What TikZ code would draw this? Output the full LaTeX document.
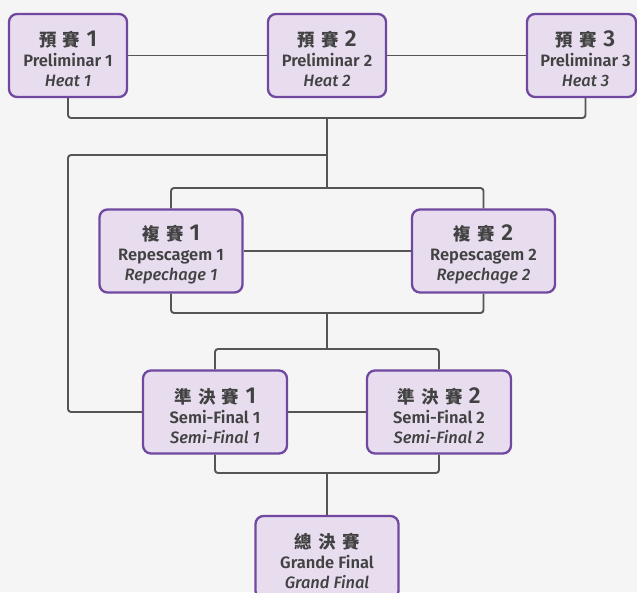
\documentclass[tikz,border=0pt]{standalone}
\usepackage{fontspec}
\setmainfont{Fira Sans}[BoldFont={Fira Sans SemiBold}, ItalicFont={Fira Sans Medium Italic}, BoldItalicFont={Fira Sans SemiBold Italic}]
\newfontfamily\cjk{Noto Sans CJK TC}
\newfontfamily\numfont{Fira Sans}[UprightFont={* SemiBold}]
\usetikzlibrary{calc}
\definecolor{bg}{HTML}{F5F5F5}
\definecolor{boxfill}{HTML}{E7DDEF}
\definecolor{boxdraw}{HTML}{7048A0}
\definecolor{wirecol}{HTML}{555555}
\definecolor{txt}{HTML}{424242}
\tikzset{
  stage/.style={draw=boxdraw, fill=boxfill, line width=2.3pt, rounded corners=8pt,
    minimum height=83pt, align=center, text=txt, inner sep=0pt,
    font=\fontsize{16.5}{20}\selectfont},
  wire/.style={draw=wirecol, line width=1.9pt, rounded corners=3pt},
}
\newcommand\ttl[2]{\rule{0pt}{23pt}{\cjk\bfseries\fontsize{17.5}{20}\selectfont #1}\hspace{6pt}{\numfont\fontsize{23}{20}\selectfont #2}}
\newcommand\gp{\hspace{6.5pt}}
\newcommand\rs{\hspace*{8pt}}
\begin{document}
\begin{tikzpicture}[x=1pt,y=-1pt]
\useasboundingbox (0,0) rectangle (637,592);
\fill[bg] (0,0) rectangle (637,592);
% nodes
\node[stage, minimum width=118pt] (h1) at (68,55.5) {\ttl{預\gp 賽}{1}\\{\bfseries Preliminar 1}\\{\itshape Heat 1}};
\node[stage, minimum width=118pt] (h2) at (327,55.5) {\ttl{預\gp 賽}{2}\\{\bfseries Preliminar 2}\\{\itshape Heat 2}};
\node[stage, minimum width=109pt] (h3) at (581.5,55.5) {\rs\ttl{預\gp 賽}{3}\\\rs{\bfseries Preliminar 3}\\\rs{\itshape Heat 3}};
\node[stage, minimum width=143pt] (r1) at (171,251) {\ttl{複\gp 賽}{1}\\{\bfseries Repescagem 1}\\{\itshape Repechage 1}};
\node[stage, minimum width=143pt] (r2) at (483.5,251) {\ttl{複\gp 賽}{2}\\{\bfseries Repescagem 2}\\{\itshape Repechage 2}};
\node[stage, minimum width=144pt] (s1) at (215,412) {\ttl{準\gp 決\gp 賽}{1}\\{\bfseries Semi-Final 1}\\{\itshape Semi-Final 1}};
\node[stage, minimum width=144pt] (s2) at (439,412) {\ttl{準\gp 決\gp 賽}{2}\\{\bfseries Semi-Final 2}\\{\itshape Semi-Final 2}};
\node[stage, minimum width=143pt] (fin) at (327,557.5) {\rule{0pt}{23pt}{\cjk\bfseries\fontsize{17.5}{20}\selectfont 總\gp 決\gp 賽}\\{\bfseries Grande Final}\\{\itshape Grand Final}};
% junctions
\coordinate (j1) at (327,118);
\coordinate (j2) at (327,155);
\coordinate (j3) at (327,188);
\coordinate (j4) at (327,313);
\coordinate (j5) at (327,349);
\coordinate (j6) at (327,473);
\coordinate (h3b) at ($(h3.south)+(4,0)$);
% wires
\draw[wire] (h1.east) -- (h2.west);
\draw[wire] (h2.east) -- (h3.west);
\draw[wire] (h1.south) |- (j1) -| (h3b);
\draw[wire] (j1) -- (j3);
\draw[wire] (j2) -| (h1.south |- s1.west) -- (s1.west);
\draw[wire] (r1.north) |- (j3) -| (r2.north);
\draw[wire] (r1.east) -- (r2.west);
\draw[wire] (r1.south) |- (j4) -| (r2.south);
\draw[wire] (j4) -- (j5);
\draw[wire] (s1.north) |- (j5) -| (s2.north);
\draw[wire] (s1.east) -- (s2.west);
\draw[wire] (s1.south) |- (j6) -| (s2.south);
\draw[wire] (j6) -- (j6 |- fin.north);
\end{tikzpicture}
\end{document}
